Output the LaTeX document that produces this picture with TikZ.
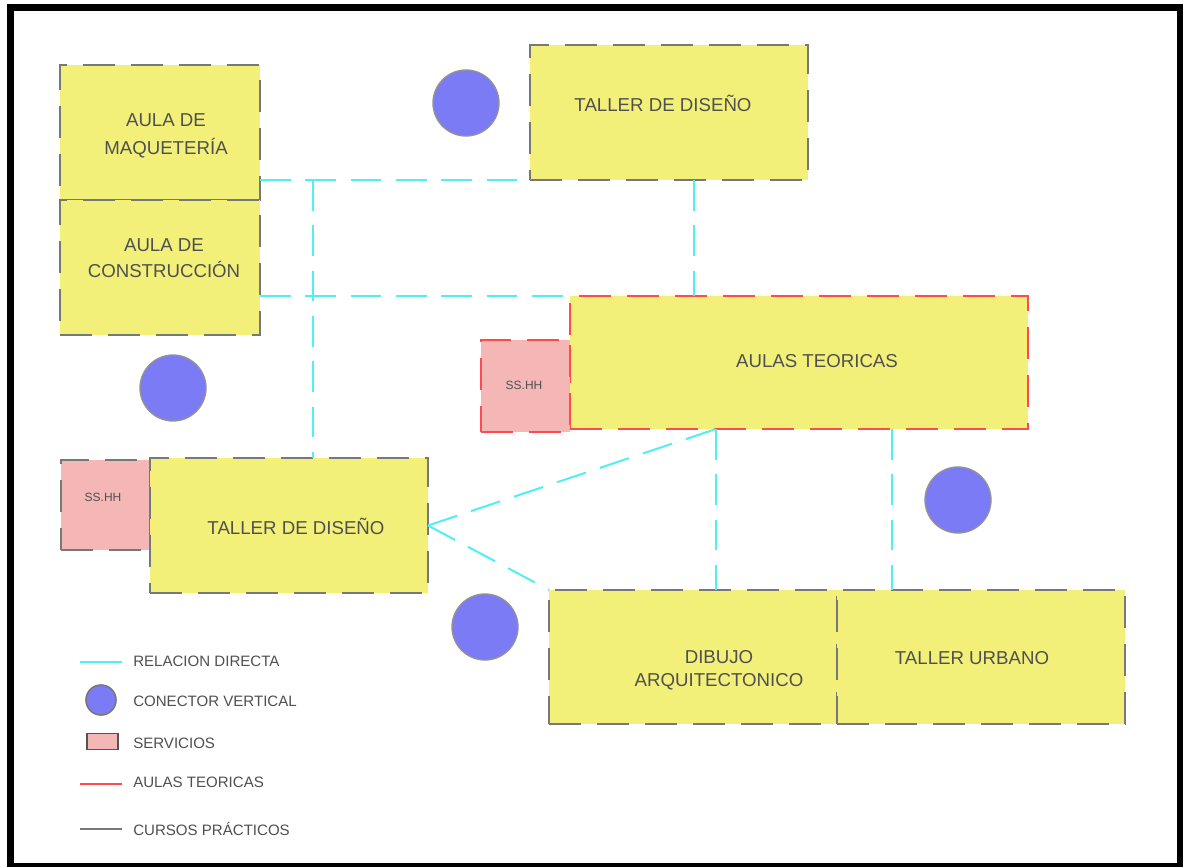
\documentclass[tikz,border=0pt]{standalone}
\usepackage{fontspec}
\setmainfont{Liberation Sans}
\usetikzlibrary{calc}
\definecolor{ybox}{RGB}{243,240,122}
\definecolor{pbox}{RGB}{245,182,182}
\definecolor{cyanl}{RGB}{80,238,245}
\definecolor{redl}{RGB}{255,75,75}
\definecolor{grayl}{RGB}{120,120,120}
\definecolor{circf}{RGB}{123,123,245}
\definecolor{txt}{RGB}{80,80,80}
\def\px{0.75pt}
\tikzset{
  base/.style={inner sep=0pt, outer sep=0pt, line width=1.5pt, dash pattern=on 24pt off 12pt},
  pbox/.style={base, draw=grayl, fill=ybox, rectangle},
  tbox/.style={base, draw=redl, fill=ybox, rectangle},
  sgray/.style={base, draw=grayl, fill=pbox, rectangle},
  sred/.style={base, draw=redl, fill=pbox, rectangle},
  conn/.style={draw=cyanl, line width=1.5pt, dash pattern=on 23pt off 11pt},
  vconn/.style={circle, fill=circf, draw=grayl!80, line width=1pt, inner sep=0pt, minimum size=66*\px},
  lbl/.style={text=txt, font=\fontsize{14}{20}\selectfont, align=center, inner sep=0pt},
  slbl/.style={text=txt, font=\fontsize{9}{10}\selectfont, inner sep=0pt},
  leg/.style={text=txt, font=\fontsize{11.3}{13}\selectfont, anchor=west, inner sep=0pt},
}
\begin{document}
\begin{tikzpicture}[x=0.75pt, y=-0.75pt]
\useasboundingbox (0,0) rectangle (1183,867);
\fill[black] (7,4) rectangle (1183,867);
\fill[white] (14,11) rectangle (1177,863);

% boxes
\node[pbox, minimum width=200*\px, minimum height=135*\px] (maq) at (160,132.5) {};
\node[pbox, minimum width=200*\px, minimum height=135*\px] (cons) at (160,267.5) {};
\node[pbox, minimum width=278*\px, minimum height=135*\px] (tal1) at (669,112.5) {};
\node[tbox, minimum width=458*\px, minimum height=133*\px] (teor) at (799,362.5) {};
\node[sred, minimum width=89*\px, minimum height=92*\px] (ss1) at (525.5,386) {};
\node[sgray, minimum width=89*\px, minimum height=90*\px] (ss2) at (105.5,505) {};
\node[pbox, minimum width=278*\px, minimum height=135*\px] (tal2) at (289,525.5) {};
\node[pbox, minimum width=288*\px, minimum height=134*\px] (dib) at (693,657) {};
\node[pbox, minimum width=288*\px, minimum height=134*\px] (urb) at (981,657) {};

% texts
\node[lbl, font=\fontsize{14}{21}\selectfont] (tmaq) at (166,136) {AULA DE\\MAQUETERÍA};
\node[lbl, font=\fontsize{14}{19.5}\selectfont] (tcons) at (164,258) {AULA DE\\CONSTRUCCIÓN};
\node[lbl] (ttal1) at (663,103) {TALLER DE DISEÑO};
\node[lbl] (tteor) at (817,361) {AULAS TEORICAS};
\node[lbl] (ttal2) at (296,526) {TALLER DE DISEÑO};
\node[lbl, font=\fontsize{14}{17}\selectfont] (tdib) at (719,670) {DIBUJO\\ARQUITECTONICO};
\node[lbl] (turb) at (972,658) {TALLER URBANO};
\node[slbl] (tss1) at (524,385) {SS.HH};
\node[slbl] (tss2) at (103,497) {SS.HH};

% vertical connectors
\node[vconn] (c1) at (466,103) {};
\node[vconn] (c2) at (173,388) {};
\node[vconn] (c3) at (958,500) {};
\node[vconn] (c4) at (485,627) {};

% relations
\coordinate (j1) at (313,180);
\coordinate (j2) at (694,180);
\coordinate (j3) at (716,429);
\coordinate (j4) at (892,429);
\draw[conn] (tal1.south west -| maq.east) -- (tal1.south west);
\draw[conn] (teor.north west -| cons.east) -- (teor.north west);
\draw[conn] (j1) -- (j1 |- tal2.north);
\draw[conn] (j2) -- (j2 |- teor.north);
\draw[conn] (tal2.east) -- (j3);
\draw[conn] (tal2.east) -- (dib.north west);
\draw[conn] (j3) -- (j3 |- dib.north);
\draw[conn] (j4) -- (j4 |- urb.north);

% legend
\coordinate (l1a) at (80,662); \coordinate (l1b) at (122,662);
\coordinate (l4a) at (80,784); \coordinate (l4b) at (122,784);
\coordinate (l5a) at (80,829); \coordinate (l5b) at (122,829);
\draw[cyanl, line width=1.5pt] (l1a) -- (l1b);
\draw[redl, line width=1.5pt] (l4a) -- (l4b);
\draw[grayl, line width=1.5pt] (l5a) -- (l5b);
\node[circle, fill=circf, draw=grayl, line width=1.2pt, inner sep=0pt, minimum size=30*\px] (lc) at (101,700) {};
\node[rectangle, fill=pbox, draw=grayl!70!black, line width=1pt, inner sep=0pt, minimum width=31*\px, minimum height=16*\px] (lr) at (102.5,741.5) {};
\node[leg] (g1) at (133,661) {RELACION DIRECTA};
\node[leg] (g2) at (133,701) {CONECTOR VERTICAL};
\node[leg] (g3) at (133,743) {SERVICIOS};
\node[leg] (g4) at (133,782) {AULAS TEORICAS};
\node[leg] (g5) at (133,829) {CURSOS PRÁCTICOS};
\end{tikzpicture}
\end{document}
